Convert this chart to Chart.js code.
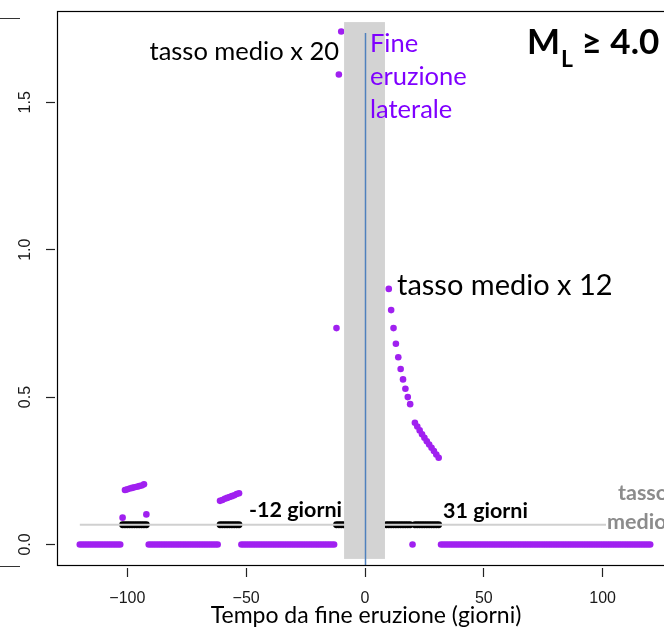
<!DOCTYPE html>
<html>
<head>
<meta charset="utf-8">
<script src="https://cdn.jsdelivr.net/npm/chart.js@4.4.1/dist/chart.umd.min.js"></script>
<style>
  html, body { margin: 0; padding: 0; background: #fff; overflow: hidden; }
  #wrap { width: 664px; height: 627px; overflow: hidden; }
  canvas { display: block; }
</style>
</head>
<body>
<div id="wrap"><canvas id="c" width="680" height="627"></canvas></div>
<script>
// ---------- data ----------
const MEAN_RATE = 0.067;               // "tasso medio" (events / day)
const MEAN_LINE_DAYS = [-120, 120];

// days (integer, daily sampling) with zero rate, as [first, last] ranges
const ZERO_DAY_RANGES = [[-120, -103], [-91, -62], [-52, -13], [20, 20], [32, 120]];

// days with a non-zero rate and their values
const RATE_DAYS = [
  -102, -101, -100, -99, -98, -97, -96, -95, -94, -93, -92,
  -61, -60, -59, -58, -57, -56, -55, -54, -53,
  -12, -11, -10,
  10, 11, 12, 13, 14, 15, 16, 17, 18, 19,
  21, 22, 23, 24, 25, 26, 27, 28, 29, 30, 31
];
const RATE_VALUES = [
  0.091, 0.185, 0.187, 0.190, 0.192, 0.194, 0.196, 0.198, 0.200, 0.204, 0.102,
  0.148, 0.151, 0.155, 0.158, 0.161, 0.164, 0.167, 0.171, 0.174,
  0.734, 1.594, 1.740,
  0.867, 0.795, 0.734, 0.681, 0.635, 0.595, 0.560, 0.528, 0.500, 0.476,
  0.413, 0.400, 0.387, 0.374, 0.362, 0.350, 0.339, 0.328, 0.317, 0.305, 0.294
];

// days marked in black at the mean-rate level (rate above the mean)
const ABOVE_MEAN_DAYS = [
  -102, -101, -100, -99, -98, -97, -96, -95, -94, -93, -92,
  -61, -60, -59, -58, -57, -56, -55, -54, -53,
  -12, -11, -10, -9,
  9, 10, 11, 12, 13, 14, 15, 16, 17, 18, 19,
  21, 22, 23, 24, 25, 26, 27, 28, 29, 30, 31
];

// shaded eruption window and end-of-eruption marker
const ERUPTION_BAND = [-8.8, 8.4];
const BAND_TOP = 1.772, BAND_BOTTOM = -0.049;
const END_DAY = 0, END_LINE_TOP = 1.735;

// axes
const X_TICKS = [-100, -50, 0, 50, 100];
const X_TICK_LABELS = ['\u2212100', '\u221250', '0', '50', '100'];
const Y_TICKS = [0, 0.5, 1.0, 1.5];
const Y_TICK_LABELS = ['0.0', '0.5', '1.0', '1.5'];
const X_RANGE = [-129.6, 129.6];
const Y_RANGE = [-0.0696, 1.8096];
const X_TITLE = 'Tempo da fine eruzione (giorni)';

// ---------- build points ----------
const zeroPts = [];
ZERO_DAY_RANGES.forEach(([a, b]) => { for (let d = a; d <= b; d++) zeroPts.push({x: d, y: 0}); });
const ratePts = RATE_DAYS.map((d, i) => ({x: d, y: RATE_VALUES[i]}));
const blackPts = ABOVE_MEAN_DAYS.map(d => ({x: d, y: MEAN_RATE}));
const meanPts = MEAN_LINE_DAYS.map(d => ({x: d, y: MEAN_RATE}));

const PURPLE = '#a020f0';
const TXT_FONT = 'Lato, "Open Sans", sans-serif';

const overlay = {
  id: 'overlay',
  afterDatasetsDraw(chart) {
    const {ctx, scales: {x, y}} = chart;
    ctx.save();
    // eruption band
    ctx.fillStyle = '#d3d3d3';
    const bx0 = x.getPixelForValue(ERUPTION_BAND[0]), bx1 = x.getPixelForValue(ERUPTION_BAND[1]);
    const by0 = y.getPixelForValue(BAND_TOP), by1 = y.getPixelForValue(BAND_BOTTOM);
    ctx.fillRect(bx0, by0, bx1 - bx0, by1 - by0);
    // end of eruption line
    ctx.strokeStyle = '#4f81bd';
    ctx.lineWidth = 1.5;
    const lx = Math.round(x.getPixelForValue(END_DAY)) + 0.5;
    ctx.beginPath();
    ctx.moveTo(lx, y.getPixelForValue(END_LINE_TOP));
    ctx.lineTo(lx, chart.chartArea.bottom);
    ctx.stroke();

    // annotations
    ctx.textBaseline = 'alphabetic';
    ctx.fillStyle = '#000';
    ctx.font = '25.5px ' + TXT_FONT;
    ctx.textAlign = 'right';
    ctx.fillText('tasso medio x 20', 339, 60);
    ctx.textAlign = 'left';
    ctx.font = '29px ' + TXT_FONT;
    ctx.fillText('tasso medio x 12', 397, 295);

    ctx.fillStyle = '#7f00ff';
    ctx.font = '25.5px ' + TXT_FONT;
    ctx.fillText('Fine', 370, 52);
    ctx.fillText('eruzione', 370, 85);
    ctx.fillText('laterale', 370, 118);

    ctx.fillStyle = '#000';
    const mx = 527;
    ctx.font = 'bold 35px ' + TXT_FONT;
    ctx.fillText('M', mx, 54);
    let w = ctx.measureText('M').width;
    ctx.font = 'bold 23px ' + TXT_FONT;
    ctx.fillText('L', mx + w + 1, 67);
    let w2 = ctx.measureText('L').width;
    ctx.font = 'bold 35px ' + TXT_FONT;
    ctx.fillText(' \u2265 4.0', mx + w + 1 + w2, 54);

    ctx.font = 'bold 21.5px ' + TXT_FONT;
    ctx.textAlign = 'right';
    ctx.fillText('-12 giorni', 342, 517);
    ctx.textAlign = 'left';
    ctx.fillText('31 giorni', 443, 518);

    // "tasso medio" label (white box behind)
    ctx.fillStyle = '#fff';
    ctx.fillRect(606, 480, 80, 55);
    ctx.fillStyle = '#8c8c8c';
    ctx.fillText('tasso', 618, 500);
    ctx.fillText('medio', 607, 529);
    ctx.restore();
  },
  afterDraw(chart) {
    const {ctx, chartArea: ca, scales: {x, y}} = chart;
    ctx.save();
    ctx.strokeStyle = '#000';
    ctx.lineWidth = 1.2;
    ctx.strokeRect(ca.left + 0.5, ca.top + 0.5, ca.right - ca.left, ca.bottom - ca.top);
    // edges of the neighbouring panel, cut by the frame
    ctx.strokeStyle = '#333';
    ctx.beginPath();
    ctx.moveTo(0, 18.5); ctx.lineTo(20, 18.5);
    ctx.moveTo(0, 566.5); ctx.lineTo(20, 566.5);
    ctx.stroke();
    // rotated y tick labels (R style)
    ctx.fillStyle = '#1a1a1a';
    ctx.font = '16px "Liberation Sans", Arial, sans-serif';
    ctx.textAlign = 'center';
    ctx.textBaseline = 'middle';
    Y_TICKS.forEach((v, i) => {
      ctx.save();
      ctx.translate(26, y.getPixelForValue(v));
      ctx.rotate(-Math.PI / 2);
      ctx.fillText(Y_TICK_LABELS[i], 0, 0);
      ctx.restore();
    });
    // x axis title
    ctx.fillStyle = '#000';
    ctx.font = '23px ' + TXT_FONT;
    ctx.textBaseline = 'alphabetic';
    ctx.fillText(X_TITLE, 366, 623);
    ctx.restore();
  }
};

new Chart(document.getElementById('c'), {
  type: 'scatter',
  data: {
    datasets: [
      { data: meanPts, showLine: true, borderColor: '#d0d0d0', borderWidth: 2, pointRadius: 0 },
      { data: zeroPts, pointRadius: 3.3, pointBackgroundColor: PURPLE, pointBorderWidth: 0, borderWidth: 0 },
      { data: blackPts, pointRadius: 3.4, pointBackgroundColor: '#000', pointBorderWidth: 0, borderWidth: 0 },
      { data: ratePts, pointRadius: 3.3, pointBackgroundColor: PURPLE, pointBorderWidth: 0, borderWidth: 0 }
    ]
  },
  options: {
    responsive: false,
    animation: false,
    events: [],
    layout: { padding: { top: 11, right: 7, left: 0, bottom: 0 } },
    plugins: { legend: { display: false }, tooltip: { enabled: false } },
    scales: {
      x: {
        type: 'linear', position: 'bottom',
        min: X_RANGE[0], max: X_RANGE[1],
        afterBuildTicks: s => { s.ticks = X_TICKS.map(v => ({value: v})); },
        afterFit: s => { s.height = 62; },
        border: { display: false },
        grid: { drawOnChartArea: false, drawTicks: true, tickLength: 12, tickColor: '#222', tickWidth: 1.2, tickBorderDash: [0, 3, 9, 40] },
        ticks: {
          padding: 12, color: '#1a1a1a', maxRotation: 0,
          font: { family: '"Liberation Sans", Arial, sans-serif', size: 16 },
          callback: v => X_TICK_LABELS[X_TICKS.indexOf(v)]
        }
      },
      y: {
        type: 'linear', position: 'left',
        min: Y_RANGE[0], max: Y_RANGE[1],
        afterBuildTicks: s => { s.ticks = Y_TICKS.map(v => ({value: v})); },
        afterFit: s => { s.width = 57; },
        border: { display: false },
        grid: { drawOnChartArea: false, drawTicks: true, tickLength: 11, tickColor: '#222', tickWidth: 1.2, tickBorderDash: [9, 40] },
        ticks: { display: false }
      }
    }
  },
  plugins: [overlay]
});
</script>
</body>
</html>
